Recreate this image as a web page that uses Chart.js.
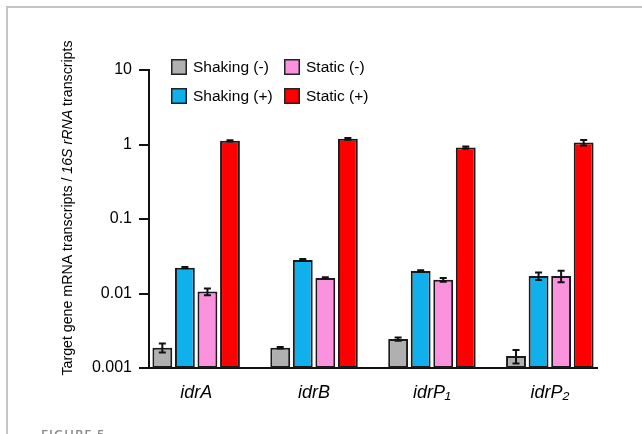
<!DOCTYPE html>
<html>
<head>
<meta charset="utf-8">
<script src="https://cdn.jsdelivr.net/npm/chart.js@4/dist/chart.umd.min.js"></script>
<style>
    body { margin: 0; background: #fff; }
    #wrap { position: relative; width: 642px; height: 434px; overflow: hidden; }
    #frame {
        position: absolute; left: 6px; top: 6px; width: 700px; height: 500px;
        border-top: 2px solid #c4c4c4; border-left: 2px solid #c4c4c4;
        pointer-events: none;
    }
    #fig {
        position: absolute; left: 41px; top: 425px; line-height: 13px;
        font: 600 13px "Open Sans", "Liberation Sans", sans-serif;
        color: #8a8a8a; letter-spacing: 1px;
    }
    canvas { position: absolute; left: 0; top: 0; }
</style>
</head>
<body>
<div id="wrap">
    <canvas id="chart" width="642" height="434"></canvas>
    <div id="frame"></div>
    <div id="fig">FIGURE 5</div>
</div>
<script>
// Données
const genes = ['idrA', 'idrB', 'idrP\u2081', 'idrP\u2082'];
const seriesLabels = ['Shaking (-)', 'Shaking (+)', 'Static (-)', 'Static (+)'];
const seriesColors = ['#b0b0b0', '#0fb0ec', '#fb92de', '#ff0000'];

const shakingMinus = [0.00187, 0.00187, 0.00245, 0.00145];
const shakingPlus  = [0.0222, 0.0282, 0.0201, 0.0172];
const staticMinus  = [0.0106, 0.0162, 0.0153, 0.0172];
const staticPlus   = [1.12, 1.19, 0.91, 1.06];

const shakingMinusErr = [0.00026, 0.00005, 0.00012, 0.0003];
const shakingPlusErr  = [0.0004, 0.0008, 0.0004, 0.002];
const staticMinusErr  = [0.0011, 0.0003, 0.0009, 0.003];
const staticPlusErr   = [0.02, 0.03, 0.03, 0.09];

const yTicks = [0.001, 0.01, 0.1, 1, 10];
const yTickLabels = ['0.001', '0.01', '0.1', '1', '10'];

const allValues = [shakingMinus, shakingPlus, staticMinus, staticPlus];
const allErrors = [shakingMinusErr, shakingPlusErr, staticMinusErr, staticPlusErr];

const FONT = '"Liberation Sans", Arial, Helvetica, sans-serif';

// Barres d'erreur dessinées via l'échelle y
const errorBars = {
    id: 'errorBars',
    afterDatasetsDraw(chart) {
        const ctx = chart.ctx;
        const y = chart.scales.y;
        ctx.save();
        ctx.strokeStyle = '#111';
        ctx.lineWidth = 2;
        chart.data.datasets.forEach((ds, di) => {
            const meta = chart.getDatasetMeta(di);
            meta.data.forEach((bar, i) => {
                const v = ds.data[i].y;
                const e = ds.err[i];
                const top = y.getPixelForValue(v + e);
                const bot = y.getPixelForValue(v - e);
                const x = bar.x;
                ctx.beginPath();
                ctx.moveTo(x, top); ctx.lineTo(x, bot);
                ctx.moveTo(x - 3.5, top); ctx.lineTo(x + 3.5, top);
                ctx.moveTo(x - 3.5, bot); ctx.lineTo(x + 3.5, bot);
                ctx.stroke();
            });
        });
        ctx.restore();
    }
};

// Légende 2x2 dans la zone du graphique
const boxLegend = {
    id: 'boxLegend',
    afterDraw(chart) {
        const ctx = chart.ctx;
        const order = [0, 2, 1, 3];
        const cols = [171, 284];
        const rows = [59, 88];
        ctx.save();
        ctx.font = '15.5px ' + FONT;
        ctx.textBaseline = 'middle';
        ctx.fillStyle = '#000';
        order.forEach((di, k) => {
            const ds = chart.data.datasets[di];
            const bx = cols[k % 2], by = rows[Math.floor(k / 2)];
            ctx.fillStyle = ds.backgroundColor;
            ctx.fillRect(bx, by, 16, 16);
            ctx.strokeStyle = '#222';
            ctx.lineWidth = 1.5;
            ctx.strokeRect(bx + 0.75, by + 0.75, 14.5, 14.5);
            ctx.fillStyle = '#000';
            ctx.fillText(ds.label, bx + 22, by + 8.5);
        });
        ctx.restore();
    }
};

// Titre de l'axe y avec partie en italique
const yTitle = {
    id: 'yTitle',
    afterDraw(chart) {
        const ctx = chart.ctx;
        const parts = [
            ['Target gene mRNA transcripts / ', ''],
            ['16S rRNA', 'italic '],
            [' transcripts', '']
        ];
        const size = '14.2px ';
        ctx.save();
        ctx.translate(72, 208);
        ctx.rotate(-Math.PI / 2);
        ctx.fillStyle = '#000';
        ctx.textBaseline = 'alphabetic';
        let total = 0;
        parts.forEach(p => { ctx.font = p[1] + size + FONT; total += ctx.measureText(p[0]).width; });
        let x = -total / 2;
        parts.forEach(p => {
            ctx.font = p[1] + size + FONT;
            ctx.fillText(p[0], x, 0);
            x += ctx.measureText(p[0]).width;
        });
        ctx.restore();
    }
};

const datasets = seriesLabels.map((label, di) => ({
    label: label,
    data: allValues[di].map((v, i) => ({ x: i, y: v })),
    err: allErrors[di],
    backgroundColor: seriesColors[di],
    borderColor: '#1a1a1a',
    borderWidth: 2,
    borderSkipped: false,
    categoryPercentage: 0.765,
    barPercentage: 0.88
}));

new Chart(document.getElementById('chart'), {
    type: 'bar',
    data: { datasets: datasets },
    plugins: [errorBars, boxLegend, yTitle],
    options: {
        responsive: false,
        animation: false,
        layout: { padding: { top: 70, right: 45, left: 0, bottom: 0 } },
        plugins: { legend: { display: false }, tooltip: { enabled: false } },
        scales: {
            x: {
                type: 'linear',
                offset: false,
                min: -0.4,
                max: 3.4,
                grid: { display: false },
                border: { display: true, color: '#111', width: 2 },
                afterBuildTicks: s => { s.ticks = genes.map((g, i) => ({ value: i })); },
                afterFit: s => { s.height = 66; },
                ticks: {
                    padding: 6,
                    color: '#000',
                    font: { family: FONT, size: 18, style: 'italic' },
                    callback: v => genes[v]
                }
            },
            y: {
                type: 'logarithmic',
                min: 0.001,
                max: 10,
                grid: {
                    drawOnChartArea: false,
                    drawTicks: true,
                    tickLength: 10,
                    color: '#111',
                    lineWidth: 2
                },
                border: { display: true, color: '#111', width: 2 },
                afterBuildTicks: s => { s.ticks = yTicks.map(v => ({ value: v })); },
                afterFit: s => { s.width = 149; },
                ticks: {
                    padding: 7,
                    color: '#000',
                    font: { family: FONT, size: 16 },
                    callback: v => yTickLabels[yTicks.indexOf(v)]
                }
            }
        }
    }
});
</script>
</body>
</html>
